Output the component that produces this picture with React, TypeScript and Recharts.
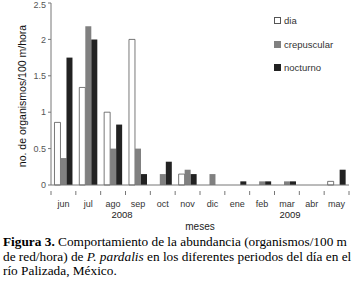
import { BarChart, Bar, XAxis, YAxis } from "recharts";

const MONTHS = ["jun", "jul", "ago", "sep", "oct", "nov", "dic", "ene", "feb", "mar", "abr", "may"];
const DIA = [0.86, 1.34, 1.0, 2.0, 0, 0.15, 0, 0, 0, 0, 0, 0.05];
const CREPUSCULAR = [0.37, 2.18, 0.5, 0.5, 0.15, 0.21, 0.15, 0, 0.05, 0.05, 0, 0];
const NOCTURNO = [1.75, 2.0, 0.83, 0.15, 0.32, 0.15, 0, 0.05, 0.05, 0.05, 0, 0.21];
const Y_TICKS = [0, 0.5, 1, 1.5, 2, 2.5];

const data = MONTHS.map((m, i) => ({
  mes: m,
  dia: DIA[i],
  crepuscular: CREPUSCULAR[i],
  nocturno: NOCTURNO[i],
}));

const SANS = "'Liberation Sans', Arial, sans-serif";
const BAND = 298 / MONTHS.length;

// etiqueta del eje x con marcas entre categorías (estilo Excel)
function MonthTick(props: any) {
  const { x, y, payload, index } = props;
  const half = BAND / 2;
  return (
    <g>
      <line x1={x - half} x2={x - half} y1={y - 2} y2={y + 2} stroke="#777" />
      {index === MONTHS.length - 1 && (
        <line x1={x + half} x2={x + half} y1={y - 2} y2={y + 2} stroke="#777" />
      )}
      <text x={x} y={y + 14} textAnchor="middle" fontSize={9} fill="#333" fontFamily={SANS}>
        {payload.value}
      </text>
    </g>
  );
}

const legendItems = [
  { label: "dia", fill: "#fff", stroke: "#555" },
  { label: "crepuscular", fill: "#808080", stroke: "#808080" },
  { label: "nocturno", fill: "#222", stroke: "#222" },
];

export default function App() {
  return (
    <div
      style={{
        position: "absolute",
        left: 0,
        top: 0,
        width: 361,
        height: 298,
        overflow: "hidden",
        background: "#fff",
      }}
    >
      <BarChart
        width={361}
        height={232}
        data={data}
        margin={{ top: 3, right: 12, left: 0, bottom: 0 }}
        barCategoryGap="14%"
        barGap={0}
      >
        <XAxis
          dataKey="mes"
          tick={<MonthTick />}
          tickLine={false}
          axisLine={{ stroke: "#777" }}
          height={47}
          interval={0}
        />
        <YAxis
          width={51}
          domain={[0, 2.5]}
          ticks={Y_TICKS}
          tick={{ fontSize: 9, fill: "#555", fontFamily: SANS }}
          tickSize={3}
          tickLine={{ stroke: "#777" }}
          axisLine={{ stroke: "#777" }}
          tickFormatter={(v: number) => String(v)}
        />
        <Bar dataKey="dia" fill="#fff" stroke="#555" strokeWidth={0.8} isAnimationActive={false} />
        <Bar dataKey="crepuscular" fill="#808080" isAnimationActive={false} />
        <Bar dataKey="nocturno" fill="#222" isAnimationActive={false} />
      </BarChart>

      {/* título del eje y */}
      <div
        style={{
          position: "absolute",
          left: 22,
          top: 96,
          transform: "translate(-50%, -50%) rotate(-90deg)",
          whiteSpace: "nowrap",
          fontFamily: SANS,
          fontSize: 10.5,
          color: "#111",
        }}
      >
        no. de organismos/100 m/hora
      </div>

      {/* años y título del eje x */}
      <div style={{ position: "absolute", left: 122, top: 209, transform: "translateX(-50%)", fontFamily: SANS, fontSize: 9.5, color: "#222" }}>
        2008
      </div>
      <div style={{ position: "absolute", left: 290, top: 209, transform: "translateX(-50%)", fontFamily: SANS, fontSize: 9.5, color: "#222" }}>
        2009
      </div>
      <div style={{ position: "absolute", left: 200, top: 221, transform: "translateX(-50%)", fontFamily: SANS, fontSize: 10, color: "#222" }}>
        meses
      </div>

      {/* leyenda */}
      <div style={{ position: "absolute", left: 274, top: 9 }}>
        {legendItems.map((it) => (
          <div
            key={it.label}
            style={{ display: "flex", alignItems: "center", height: 23.5, fontFamily: SANS, fontSize: 9.5, color: "#333" }}
          >
            <span
              style={{
                display: "inline-block",
                width: 5,
                height: 5,
                background: it.fill,
                border: `1px solid ${it.stroke}`,
                marginRight: 3,
              }}
            />
            {it.label}
          </div>
        ))}
      </div>

      {/* pie de figura */}
      <div
        style={{
          position: "absolute",
          left: 3,
          top: 235,
          width: 420,
          fontFamily: "'Liberation Serif', 'Times New Roman', serif",
          fontSize: 13.3,
          lineHeight: "14.5px",
          color: "#000",
          whiteSpace: "nowrap",
        }}
      >
        <div>
          <b>Figura 3.</b> Comportamiento de la abundancia (organismos/100 m
        </div>
        <div>
          de red/hora) de <i>P. pardalis</i> en los diferentes periodos del día en el
        </div>
        <div>río Palizada, México.</div>
      </div>
    </div>
  );
}
